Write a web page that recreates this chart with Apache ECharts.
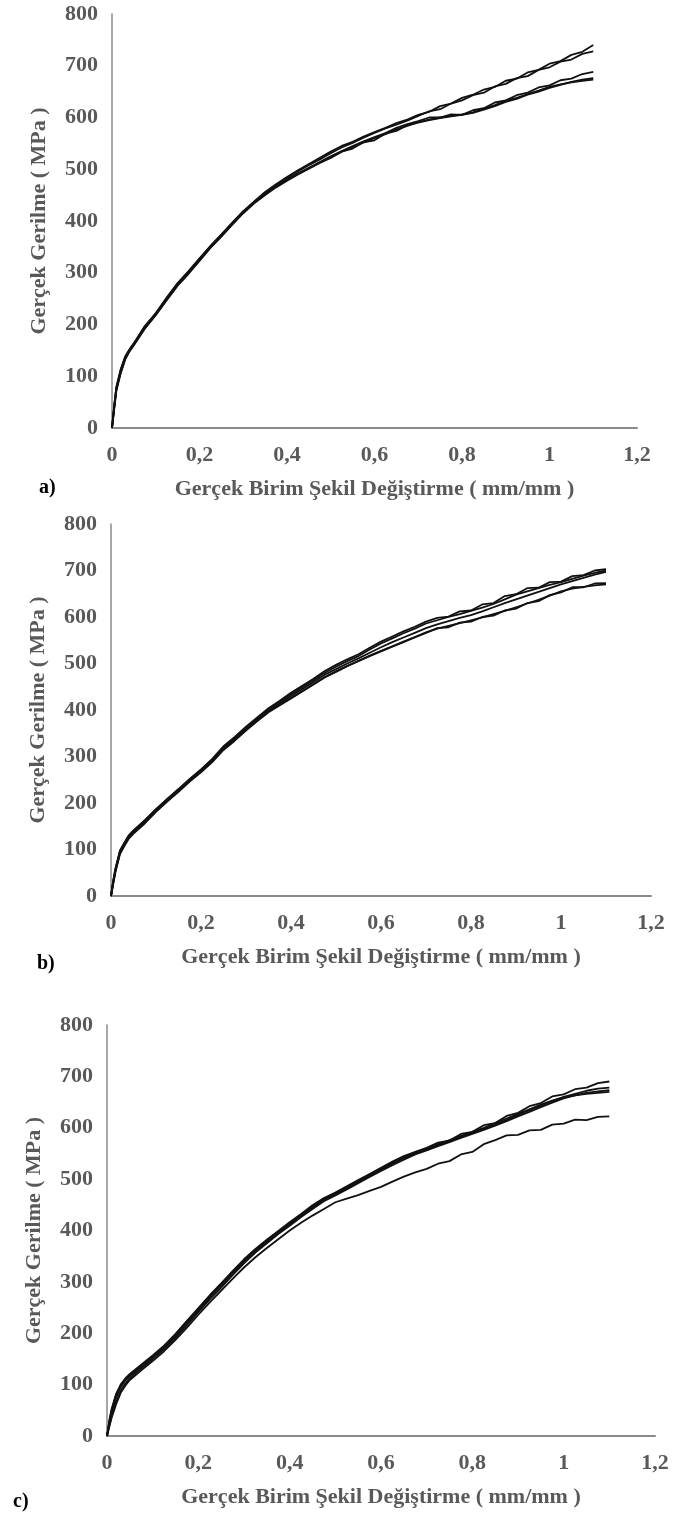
<!DOCTYPE html>
<html>
<head>
<meta charset="utf-8">
<script src="https://cdn.jsdelivr.net/npm/echarts@6/dist/echarts.min.js"></script>
<style>
  html, body { margin: 0; padding: 0; background: #fff; }
  #chart { width: 676px; height: 1517px; }
</style>
</head>
<body>
<div id="chart"></div>
<script>
    // strain grid shared by all curves (mm/mm)
    const strain = [0, 0.005, 0.01, 0.02, 0.03, 0.04, 0.05, 0.075, 0.1, 0.125, 0.15, 0.175, 0.2, 0.225, 0.25, 0.275,
        0.3, 0.325, 0.35, 0.375, 0.4, 0.425, 0.45, 0.475, 0.5, 0.525, 0.55, 0.575, 0.6, 0.625, 0.65, 0.675,
        0.7, 0.725, 0.75, 0.775, 0.8, 0.825, 0.85, 0.875, 0.9, 0.925, 0.95, 0.975, 1.0, 1.025, 1.05, 1.075, 1.1];

    // a) true stress (MPa)
    const a1 = [0, 42, 78, 112, 136, 151, 163, 196, 222, 251, 279, 302, 327, 352, 374, 397, 419, 438, 456, 471, 485, 498, 510, 522,
        534, 545, 553, 563, 572, 580, 589, 596, 605, 611, 622, 627, 638, 644, 654, 659, 671, 675, 687, 692, 704, 709, 721, 727, 740];
    const a2 = [0, 38, 74, 108, 133, 149, 161, 193, 219, 248, 276, 299, 324, 349, 371, 394, 416, 437, 454, 470, 483, 496, 508, 519,
        531, 542, 551, 561, 570, 579, 586, 594, 603, 612, 616, 627, 633, 643, 648, 660, 665, 676, 680, 692, 697, 708, 712, 723, 728];
    const a3 = [0, 40, 76, 110, 135, 150, 162, 195, 220, 250, 278, 301, 326, 350, 372, 396, 418, 436, 452, 467, 480, 492, 503, 514,
        525, 535, 545, 554, 562, 570, 580, 587, 593, 600, 600, 606, 605, 614, 618, 629, 633, 643, 648, 658, 662, 672, 675, 684, 688];
    const a4 = [0, 36, 72, 106, 132, 148, 160, 192, 218, 247, 275, 298, 323, 348, 370, 393, 415, 434, 450, 465, 478, 490, 501, 512,
        522, 534, 540, 552, 556, 569, 574, 585, 590, 595, 599, 602, 605, 609, 615, 622, 630, 636, 644, 650, 657, 663, 669, 673, 676];
    const a5 = [0, 44, 80, 114, 138, 152, 164, 197, 221, 252, 280, 303, 328, 351, 373, 396, 417, 435, 451, 466, 479, 491, 502, 513,
        524, 534, 543, 552, 560, 568, 577, 584, 591, 596, 600, 603, 606, 610, 617, 624, 632, 638, 645, 652, 659, 664, 668, 671, 673];

    // b)
    const b1 = [0, 32, 58, 97, 114, 130, 140, 162, 187, 209, 230, 252, 272, 295, 322, 342, 364, 384, 404, 420, 437, 452, 467, 484,
        497, 509, 520, 534, 547, 558, 569, 579, 590, 598, 601, 612, 614, 627, 630, 645, 649, 662, 663, 675, 676, 688, 690, 700, 703];
    const b2 = [0, 28, 54, 93, 110, 126, 136, 158, 183, 205, 226, 248, 268, 290, 318, 338, 360, 380, 401, 417, 434, 449, 464, 480,
        493, 505, 516, 530, 543, 554, 565, 575, 586, 593, 600, 606, 613, 620, 628, 638, 648, 655, 662, 669, 675, 682, 689, 695, 700];
    const b3 = [0, 30, 56, 95, 112, 128, 138, 160, 185, 207, 228, 250, 270, 292, 318, 338, 359, 378, 398, 414, 430, 445, 460, 476,
        488, 500, 511, 523, 535, 546, 556, 566, 576, 584, 591, 598, 604, 612, 621, 630, 638, 646, 654, 662, 670, 677, 684, 691, 697];
    const b4 = [0, 26, 52, 90, 108, 124, 134, 156, 181, 203, 224, 246, 266, 288, 314, 334, 356, 376, 395, 410, 425, 440, 455, 470,
        482, 494, 505, 516, 526, 536, 546, 556, 566, 576, 578, 588, 590, 600, 603, 614, 618, 630, 634, 647, 653, 664, 664, 672, 673];
    const b5 = [0, 34, 60, 98, 115, 131, 141, 163, 186, 208, 229, 251, 271, 293, 316, 336, 358, 377, 396, 411, 426, 441, 456, 471,
        483, 495, 506, 517, 527, 537, 547, 557, 567, 575, 581, 587, 593, 599, 606, 613, 621, 629, 637, 646, 655, 661, 665, 668, 670];

    // c)
    const c1 = [0, 30, 52, 82, 100, 112, 121, 139, 157, 176, 199, 224, 249, 274, 297, 321, 344, 364, 382, 399, 416, 432, 449, 463,
        474, 486, 498, 510, 522, 534, 545, 553, 561, 571, 575, 588, 592, 605, 609, 623, 629, 642, 648, 661, 665, 675, 678, 687, 690];
    const c2 = [0, 25, 45, 75, 95, 108, 117, 135, 153, 172, 195, 220, 245, 270, 293, 317, 340, 360, 378, 395, 412, 428, 445, 460,
        470, 482, 494, 506, 518, 530, 541, 550, 558, 566, 574, 582, 590, 598, 606, 615, 625, 634, 643, 652, 660, 666, 672, 676, 678];
    const c3 = [0, 20, 38, 66, 88, 102, 113, 132, 150, 169, 191, 216, 241, 266, 289, 313, 336, 357, 375, 393, 409, 426, 442, 457,
        468, 480, 492, 504, 516, 527, 538, 548, 556, 564, 572, 580, 588, 596, 604, 613, 622, 631, 640, 649, 657, 663, 668, 671, 673];
    const c4 = [0, 28, 50, 80, 99, 110, 119, 137, 155, 174, 197, 222, 247, 272, 295, 319, 342, 362, 380, 397, 414, 430, 447, 461,
        472, 484, 496, 508, 520, 532, 543, 552, 560, 568, 576, 584, 592, 600, 609, 618, 627, 636, 645, 653, 659, 663, 666, 668, 670];
    const c5 = [0, 18, 35, 62, 84, 98, 109, 128, 146, 165, 187, 211, 236, 260, 283, 306, 328, 348, 366, 383, 400, 415, 429, 442,
        455, 462, 469, 477, 485, 495, 505, 513, 520, 530, 535, 548, 553, 568, 576, 585, 586, 595, 596, 606, 608, 616, 615, 621, 622];

    const xTicks = [0, 0.2, 0.4, 0.6, 0.8, 1, 1.2];
    const yTicks = [0, 100, 200, 300, 400, 500, 600, 700, 800];
    const xTitle = 'Gerçek Birim Şekil Değiştirme ( mm/mm )';
    const yTitle = 'Gerçek Gerilme ( MPa )';

    const FONT = 'Liberation Serif';
    const GREY = '#595959';

    const panels = [
        { curves: [a1, a2, a3, a4, a5], grid: { left: 112, top: 14, width: 525, height: 414 }, tag: 'a)', tagAt: [39, 478] },
        { curves: [b1, b2, b3, b4, b5], grid: { left: 111, top: 524, width: 540, height: 372 }, tag: 'b)', tagAt: [37, 954] },
        { curves: [c1, c2, c3, c4, c5], grid: { left: 107, top: 1025, width: 548, height: 411 }, tag: 'c)', tagAt: [13, 1492] }
    ];

    const chart = echarts.init(document.getElementById('chart'), null, { renderer: 'canvas' });

    const grid = [];
    const xAxis = [];
    const yAxis = [];
    const series = [];
    const graphic = [];

    panels.forEach((p, k) => {
        grid.push(Object.assign({ containLabel: false }, p.grid));
        xAxis.push({
            type: 'value',
            gridIndex: k,
            min: xTicks[0],
            max: xTicks[xTicks.length - 1],
            interval: 0.2,
            name: xTitle,
            nameLocation: 'middle',
            nameGap: 50,
            nameTextStyle: { fontFamily: FONT, fontWeight: 'bold', fontSize: 22, color: GREY },
            axisLine: { show: true, onZero: false, lineStyle: { color: '#8a8a8a', width: 2 } },
            axisTick: { show: false },
            splitLine: { show: false },
            axisLabel: {
                margin: 16,
                fontFamily: FONT, fontWeight: 'bold', fontSize: 22, color: GREY,
                formatter: v => String(+v.toFixed(1)).replace('.', ',')
            }
        });
        yAxis.push({
            type: 'value',
            gridIndex: k,
            min: yTicks[0],
            max: yTicks[yTicks.length - 1],
            interval: 100,
            name: yTitle,
            nameLocation: 'middle',
            nameRotate: 90,
            nameGap: 62,
            nameTextStyle: { fontFamily: FONT, fontWeight: 'bold', fontSize: 22, color: GREY },
            axisLine: { show: true, onZero: false, lineStyle: { color: '#8a8a8a', width: 1.5 } },
            axisTick: { show: false },
            splitLine: { show: false },
            axisLabel: { margin: 14, fontFamily: FONT, fontWeight: 'bold', fontSize: 22, color: GREY }
        });
        p.curves.forEach(c => {
            series.push({
                type: 'line',
                xAxisIndex: k,
                yAxisIndex: k,
                showSymbol: false,
                symbol: 'none',
                data: strain.map((s, i) => [s, c[i]]),
                lineStyle: { color: '#111', width: 1.8 }
            });
        });
        graphic.push({
            type: 'text',
            left: p.tagAt[0],
            top: p.tagAt[1],
            style: { text: p.tag, font: 'bold 20px ' + FONT, fill: '#000' }
        });
    });

    chart.setOption({
        animation: false,
        backgroundColor: '#fff',
        grid,
        xAxis,
        yAxis,
        series,
        graphic
    });
</script>
</body>
</html>
